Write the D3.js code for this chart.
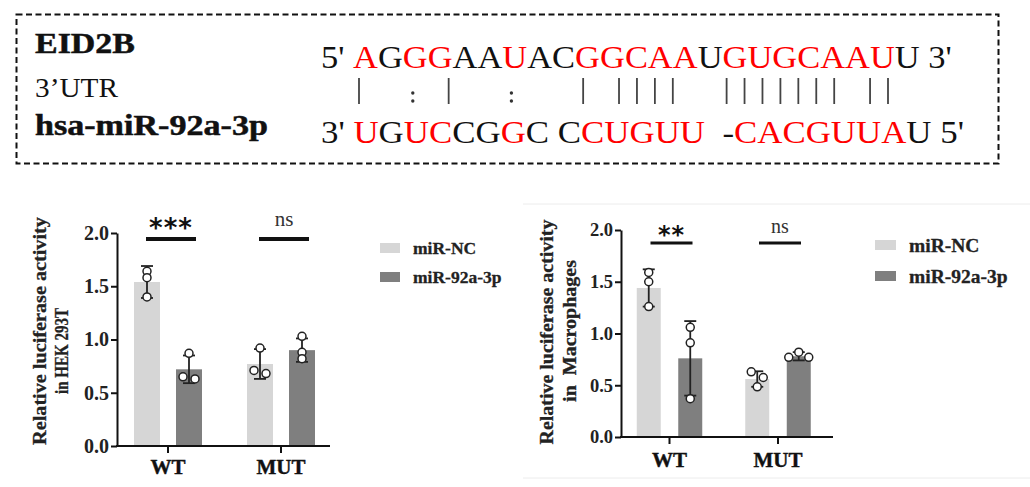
<!DOCTYPE html>
<html>
<head>
<meta charset="utf-8">
<script src="https://cdn.jsdelivr.net/npm/d3@7/dist/d3.min.js"></script>
<style>
  html, body { margin: 0; padding: 0; background: #fff; }
  svg { display: block; }
  text { font-family: "Liberation Serif", "Times New Roman", serif; white-space: pre; }
</style>
</head>
<body>
<script>
// ---------------- data ----------------
const groups = ["WT", "MUT"];
const seriesNames = ["miR-NC", "miR-92a-3p"];
const yTickValues = [0, 0.5, 1.0, 1.5, 2.0];

// HEK 293T panel: [group][series]
const hekMeans = [[1.54, 0.72], [0.77, 0.90]];
const hekSD = [[0.15, 0.13], [0.14, 0.11]];
const hekPoints = [[[1.64, 1.58, 1.40], [0.87, 0.65, 0.63]], [[0.92, 0.71, 0.68], [1.03, 0.88, 0.82]]];
const hekSig = ["***", "ns"];
const hekTitle = ["Relative luciferase activity", "in HEK 293T"];

// Macrophages panel
const macMeans = [[1.44, 0.76], [0.56, 0.78]];
const macSD = [[0.18, 0.36], [0.075, 0.04]];
const macPoints = [[[1.59, 1.50, 1.26], [1.06, 0.91, 0.37]], [[0.63, 0.575, 0.485], [0.82, 0.77, 0.77]]];
const macSig = ["**", "ns"];
const macTitle = ["Relative luciferase activity", "in  Macrophages"];

// Sequence box
const geneLabel = "EID2B";
const utrLabel = "3\u2019UTR";
const mirLabel = "hsa-miR-92a-3p";
// [text, isRed]
const utrSegments = [["5' ", 0], ["A", 1], ["G", 0], ["GG", 1], ["AA", 0], ["U", 1], ["AC", 0], ["GGCAA", 1], ["U", 0], ["GUGCAAU", 1], ["U", 0], [" 3'", 0]];
const mirSegments = [["3' ", 0], ["U", 1], ["G", 0], ["UC", 1], ["CG", 0], ["G", 1], ["C C", 0], ["CUGUU", 1], ["  -", 0], ["CACGUUA", 1], ["U", 0], [" 5'", 0]];
const pairLine = "|     :   |      :       |   | | | |     | | | | | | |   | |";

// ---------------- drawing ----------------
const W = 1030, H = 487;
const svg = d3.select("body").append("svg").attr("width", W).attr("height", H);
const RED = "#ff0000", INK = "#111";
const colors = d3.scaleOrdinal().domain(seriesNames).range(["#d6d6d6", "#7f7f7f"]);

function label(parent, o) {
  const g = parent.append("g");
  const t = g.append("text")
    .attr("font-size", o.size)
    .attr("font-weight", o.weight || "normal")
    .attr("text-anchor", o.anchor || "start")
    .attr("fill", o.fill || INK)
    .attr("xml:space", "preserve");
  if (o.segments) {
    o.segments.forEach(s => t.append("tspan").attr("fill", s[1] ? RED : INK).text(s[0]));
  } else {
    t.text(o.text);
  }
  if (o.family) t.style("font-family", o.family);
  if (o.spacing) t.attr("letter-spacing", o.spacing);
  if (o.stroke) t.attr("stroke", o.fill || INK).attr("stroke-width", o.stroke);
  let sx = 1;
  if (o.len) sx = o.len / t.node().getComputedTextLength();
  g.attr("transform", `translate(${o.x},${o.y})` + (o.rotate ? ` rotate(${o.rotate})` : "") + ` scale(${sx},1)`);
  return t;
}

// ---- top sequence box ----
svg.append("rect").attr("x", 16.5).attr("y", 14.5).attr("width", 982).attr("height", 149)
  .attr("fill", "none").attr("stroke", INK).attr("stroke-width", 2).attr("stroke-dasharray", "6,3.5");
label(svg, { x: 35, y: 53, text: geneLabel, size: 30, weight: "bold", len: 100, stroke: 0.5 });
label(svg, { x: 35, y: 97, text: utrLabel, size: 28, len: 83 });
label(svg, { x: 35, y: 135, text: mirLabel, size: 29, weight: "bold", len: 233, stroke: 0.5 });
label(svg, { x: 321, y: 68, segments: utrSegments, size: 31, len: 629 });
label(svg, { x: 321, y: 143, segments: mirSegments, size: 32, len: 643 });

const pairX = d3.scaleLinear().domain([0, pairLine.length - 1]).range([359, 888]);
const marks = pairLine.split("").map((c, i) => ({ c, i })).filter(d => d.c !== " ");
svg.append("g").selectAll("line").data(marks.filter(d => d.c === "|")).join("line")
  .attr("x1", d => pairX(d.i)).attr("x2", d => pairX(d.i))
  .attr("y1", 78).attr("y2", 104).attr("stroke", "#444").attr("stroke-width", 1.8);
svg.append("g").selectAll("g").data(marks.filter(d => d.c === ":")).join("g")
  .each(function (d) {
    d3.select(this).selectAll("circle").data([93, 101]).join("circle")
      .attr("cx", pairX(d.i)).attr("cy", y => y).attr("r", 1.7).attr("fill", "#333");
  });

// faint frame around right panel
svg.append("line").attr("x1", 523).attr("x2", W).attr("y1", 204).attr("y2", 204).attr("stroke", "#ececec");
svg.append("line").attr("x1", 523).attr("x2", W).attr("y1", 478).attr("y2", 478).attr("stroke", "#ececec");

function drawPanel(c) {
  const g = svg.append("g");
  const y = d3.scaleLinear().domain([0, 2]).range([c.yBot, c.yTop]);
  const x0 = d3.scaleBand().domain(groups).range(c.groupRange);
  const x1 = d3.scaleBand().domain(seriesNames).range([-c.inner, c.inner]).paddingInner(c.pad);
  const cx = (gi, si) => x0(groups[gi]) + x0.bandwidth() / 2 + x1(seriesNames[si]) + x1.bandwidth() / 2;

  // bars
  const rows = [];
  groups.forEach((gr, gi) => seriesNames.forEach((s, si) => rows.push({ gi, si, s, m: c.means[gi][si], sd: c.sd[gi][si], pts: c.points[gi][si] })));
  g.selectAll("rect.bar").data(rows).join("rect").attr("class", "bar")
    .attr("x", d => cx(d.gi, d.si) - x1.bandwidth() / 2)
    .attr("width", x1.bandwidth())
    .attr("y", d => y(d.m)).attr("height", d => y(0) - y(d.m))
    .attr("fill", d => colors(d.s));

  // error bars
  const eb = g.selectAll("g.eb").data(rows).join("g").attr("class", "eb")
    .attr("stroke", "#222").attr("stroke-width", 1.8);
  eb.append("line").attr("x1", d => cx(d.gi, d.si)).attr("x2", d => cx(d.gi, d.si))
    .attr("y1", d => y(d.m - d.sd)).attr("y2", d => y(d.m + d.sd));
  [1, -1].forEach(sgn => eb.append("line")
    .attr("x1", d => cx(d.gi, d.si) - c.cap).attr("x2", d => cx(d.gi, d.si) + c.cap)
    .attr("y1", d => y(d.m + sgn * d.sd)).attr("y2", d => y(d.m + sgn * d.sd)));

  // points with simple dodge
  const r = 4;
  rows.forEach(d => {
    const ps = d.pts.map(v => ({ v, py: y(v) })).sort((a, b) => a.py - b.py);
    const clusters = [];
    ps.forEach(p => {
      const last = clusters[clusters.length - 1];
      if (last && p.py - last[last.length - 1].py < 6) last.push(p); else clusters.push([p]);
    });
    clusters.forEach(cl => {
      const offs = cl.length === 1 ? [0] : cl.length === 2 ? [-6, 6] : [0, -10, 10];
      cl.forEach((p, i) => p.dx = offs[i]);
    });
    g.append("g").selectAll("circle").data(ps).join("circle")
      .attr("cx", p => cx(d.gi, d.si) + p.dx).attr("cy", p => p.py).attr("r", r)
      .attr("fill", "#fff").attr("stroke", "#222").attr("stroke-width", 1.5);
  });

  // y axis
  const ya = g.append("g").attr("transform", `translate(${c.axisX},0)`)
    .call(d3.axisLeft(y).tickValues(yTickValues).tickFormat(d3.format(".1f")).tickSize(6).tickSizeOuter(0).tickPadding(2));
  ya.select(".domain").attr("stroke", "#111").attr("stroke-width", 2);
  ya.selectAll(".tick line").attr("stroke", "#111").attr("stroke-width", 2);
  ya.selectAll(".tick text").attr("font-size", c.tickSize).attr("font-weight", "bold")
    .attr("fill", "#222").style("font-family", '"Liberation Serif", serif');

  // x axis
  g.append("line").attr("x1", c.axisX - 1).attr("x2", c.xEnd).attr("y1", c.yBot).attr("y2", c.yBot)
    .attr("stroke", "#111").attr("stroke-width", 2);
  const xa = g.append("g").attr("transform", `translate(0,${c.yBot})`)
    .call(d3.axisBottom(x0).tickSize(7).tickSizeOuter(0).tickFormat(""));
  xa.select(".domain").remove();
  xa.selectAll(".tick line").attr("stroke", "#111").attr("stroke-width", 2);
  groups.forEach(gr => label(g, { x: x0(gr) + x0.bandwidth() / 2, y: c.xLabelY, text: gr, size: 21, weight: "bold", anchor: "middle", fill: "#111", stroke: 0.4 }));

  // y title
  label(g, { x: c.title1X, y: c.title1Y, text: c.title[0], size: 18, weight: "bold", anchor: "middle", rotate: -90, len: c.title1Len, fill: "#222", stroke: 0.3 });
  label(g, { x: c.title2X, y: c.title2Y, text: c.title[1], size: 18, weight: "bold", anchor: "middle", rotate: -90, len: c.title2Len, fill: "#222", stroke: 0.3 });

  // significance
  groups.forEach((gr, gi) => {
    const mid = x0(gr) + x0.bandwidth() / 2 + c.sigShift;
    g.append("line").attr("x1", mid - c.sigHalf).attr("x2", mid + c.sigHalf)
      .attr("y1", c.sigLineY).attr("y2", c.sigLineY).attr("stroke", "#111").attr("stroke-width", c.sigW);
    const s = c.sig[gi];
    if (s === "ns") label(g, { x: mid, y: c.nsY, text: s, size: c.nsSize, anchor: "middle", fill: "#333" });
    else label(g, { x: mid, y: c.starY, text: s, size: c.starSize, weight: "bold", anchor: "middle", family: '"DejaVu Sans", sans-serif', spacing: 1, fill: "#111" });
  });

  // legend
  seriesNames.forEach((s, si) => {
    g.append("rect").attr("x", c.legX).attr("y", c.legY[si] - 5).attr("width", c.legW).attr("height", 10).attr("fill", colors(s));
    label(g, { x: c.legTextX, y: c.legY[si] + c.legSize * 0.36, text: s, size: c.legSize, weight: "bold", fill: "#222", stroke: 0.3 });
  });
}

drawPanel({
  means: hekMeans, sd: hekSD, points: hekPoints, sig: hekSig, title: hekTitle,
  yTop: 233, yBot: 446, axisX: 117, xEnd: 330, groupRange: [111.5, 337.5], inner: 34, pad: 0.381, cap: 6,
  tickSize: 20, xLabelY: 474,
  title1X: 46, title1Y: 331, title1Len: 228, title2X: 68, title2Y: 351, title2Len: 86,
  sigShift: 3, sigHalf: 25, sigLineY: 239, sigW: 4, nsY: 226, nsSize: 21, starY: 237, starSize: 26,
  legX: 380, legY: [248, 277], legW: 20, legTextX: 413, legSize: 17.5
});

drawPanel({
  means: macMeans, sd: macSD, points: macPoints, sig: macSig, title: macTitle,
  yTop: 230, yBot: 437, axisX: 621, xEnd: 833, groupRange: [615.25, 832.25], inner: 32.75, pad: 0.422, cap: 6,
  tickSize: 18.5, xLabelY: 467,
  title1X: 553, title1Y: 332, title1Len: 225, title2X: 576, title2Y: 331, title2Len: 142,
  sigShift: 2, sigHalf: 21, sigLineY: 243, sigW: 3, nsY: 233, nsSize: 20, starY: 243, starSize: 24,
  legX: 875, legY: [245, 276], legW: 21, legTextX: 909, legSize: 19.5
});
</script>
</body>
</html>
